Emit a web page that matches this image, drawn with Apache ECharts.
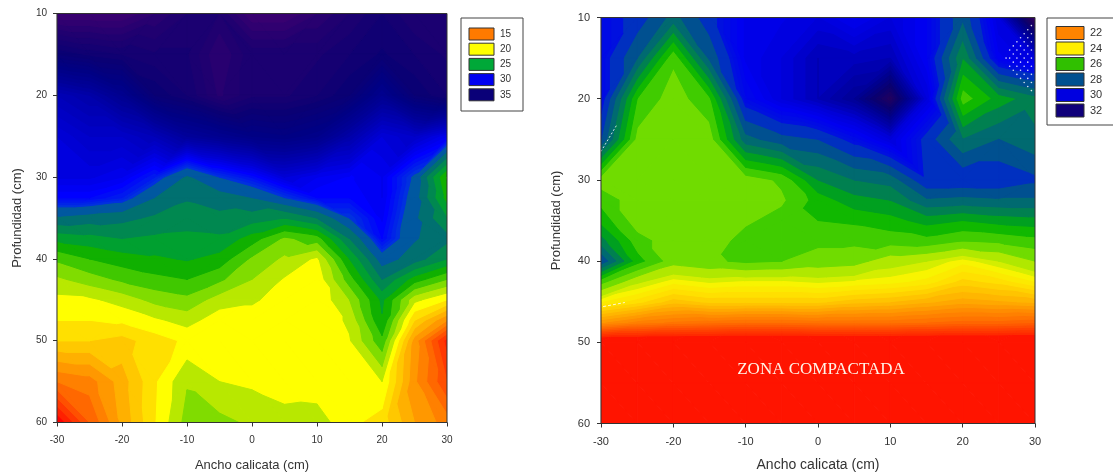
<!DOCTYPE html>
<html><head><meta charset="utf-8">
<style>html,body{margin:0;padding:0;background:#fff}#c{width:1113px;height:473px;filter:blur(0.5px)}</style>
<script src="https://cdn.jsdelivr.net/npm/echarts@6/dist/echarts.min.js"></script>
</head><body><div id="c"></div>
<script>
const widths = [-30,-25,-20,-15,-10,-5,0,5,10,15,20,25,30];
const depths = [10,15,20,25,30,32.5,35,37.5,40,42.5,45,47.5,50,55,60];
const xTicks = [-30,-20,-10,0,10,20,30];
const yTicks = [10,20,30,40,50,60];

// Left panel: one list per width column, top to bottom along depths
const leftM30 = [37,35,32,31,30.8,30,27.8,25.3,23.2,21.8,20.7,20,19,15,10];
const leftM25 = [37,35.3,32.5,31.5,30.8,30,27.5,25.6,24,22.5,20.8,20,19,15.5,14];
const leftM20 = [37,35.5,33.5,31.5,30.5,29.5,27.3,26,24.5,23.2,21.4,20.2,18.6,17.5,17.2];
const leftM15 = [36.5,35.7,35,32,29.5,28,26.8,25.8,24.8,23.7,22.3,20.8,19.5,19.8,19.9];
const leftM10 = [36,35.7,35.5,33,27.8,27.1,26.5,25.7,25.1,24,22.7,21.4,20.2,21.9,22.4];
const leftM05 = [36,36.5,36.3,33.5,29,27.5,26.7,25.8,24.6,23.2,21.5,20.4,20.2,21,22.3];
const leftP00 = [37,35.8,35.8,34,29.8,28,26.5,24.5,22.8,22,21.2,20.4,20.2,20.8,21.8];
const leftP05 = [37,35.8,35.8,34.2,31,29,26,22.8,21.8,20.9,20.4,20.2,20.2,20.5,21.4];
const leftP10 = [36.5,35.8,35.5,33.8,30.5,30,27,23.5,20.8,20.3,20.2,20.2,20.2,20.4,21.5];
const leftP15 = [36,35.5,35,32.5,30.2,30,29,27,25,23.5,22,21.2,20.9,20.3,20.3];
const leftP20 = [35.5,35.2,33.5,31,30.5,30.5,30.3,30,28.5,27,25.2,24.9,23.7,21,19.5];
const leftP25 = [36,35.5,35,31.5,28.8,28.5,28.2,28.1,27.5,24.5,21.3,19,16.5,16.2,17];
const leftP30 = [36,35.8,35.5,30.5,23.8,24.5,26,27.3,26,23,20,16,11.5,13,15.5];
const leftColumns = [leftM30,leftM25,leftM20,leftM15,leftM10,leftM05,leftP00,leftP05,leftP10,leftP15,leftP20,leftP25,leftP30];

// Right panel
const rightM30 = [29.3,29.3,29.3,28.5,25.2,25.8,26.3,27.2,28.4,25.7,24,22.3,19.2,19,19];
const rightM25 = [28.8,28,26,25.3,25.2,25.2,25.2,25.7,26.2,24.6,23.6,21.9,19.2,19,19];
const rightM20 = [27.8,25.6,25.2,25.2,25.2,25.2,25.2,25.2,25.2,24.1,23.1,21.7,19.2,19,19];
const rightM15 = [28.8,28.1,25.9,25.2,25.2,25.2,25.2,25.2,25.4,24.3,23.3,21.6,19.2,19,19];
const rightM10 = [29.7,29.7,29.3,27.8,25.2,25.2,25.4,25.7,25.6,24.2,23.3,21.5,19.2,19,19];
const rightM05 = [29.8,30,30,28.3,25.6,25.4,25.7,25.8,25.5,24.2,23.3,21.5,19.2,19,19];
const rightP00 = [30,30.5,30.5,28.5,27,26.2,26,25.6,25.3,24.3,23.3,21.6,19.2,19,19];
const rightP05 = [29.6,30.4,31,29.2,27.5,26.8,26.1,25.6,25.2,24.2,23.1,21.6,19.2,19,19];
const rightP10 = [30,30.5,32.1,30,27.7,27,26.3,25.7,24.7,24.1,23,21.6,19.2,19,19];
const rightP15 = [29.5,29.5,30,28.8,28.9,27.9,26.7,25.8,24.5,23.9,22.8,21.5,19.2,19,19];
const rightP20 = [28.1,27,25.7,27.5,28.9,27.8,26.5,25.5,24.1,23.4,22.6,21.4,19.2,19,19];
const rightP25 = [30,29.6,26.7,28,28.9,27.9,26.7,25.6,24.5,23.6,22.7,21.4,19.2,19,19];
const rightP30 = [32.5,30,27.3,27.6,28.6,27.9,26.8,25.8,25,24,22.8,21.3,19.2,19,19];
const rightColumns = [rightM30,rightM25,rightM20,rightM15,rightM10,rightM05,rightP00,rightP05,rightP10,rightP15,rightP20,rightP25,rightP30];

const rightDashA = [[-30,26.5],[-27.8,23.2]];
const rightDashB = [[-29.7,45.6],[-26.7,45.1]];
const rightHatchX = [26,26.5,26.5,26.5,27,27,27,27,27.5,27.5,27.5,27.5,27.5,28,28,28,28,28,28,28.5,28.5,28.5,28.5,28.5,28.5,28.5,29,29,29,29,29,29,29,29,29.5,29.5,29.5,29.5,29.5,29.5,29.5,29.5,29.5];
const rightHatchD = [15,14,15,16,13.5,14.5,15.5,16.5,13,14,15,16,17,12.5,13.5,14.5,15.5,16.5,17.5,12,13,14,15,16,17,18,11.5,12.5,13.5,14.5,15.5,16.5,17.5,18.5,11,12,13,14,15,16,17,18,19];

const leftLegendLabels = ['15','20','25','30','35'];
const leftLegendColors = ['#ff7a00','#ffff00','#00a838','#0000f0','#0a0078'];
const rightLegendLabels = ['22','24','26','28','30','32'];
const rightLegendColors = ['#ff8400','#ffee00','#30c000','#005090','#0000e0','#10007a'];

// band colours: [lower edge of band, colour]
const leftBands = [[0,'#ff0000'],[11,'#ff2000'],[12,'#ff3800'],[13,'#ff5000'],[14,'#ff6800'],[15,'#ff8000'],[16,'#ff9800'],[17,'#ffb000'],[18,'#ffc800'],[19,'#ffe000'],[20,'#ffff00'],[21,'#b8e800'],[22,'#80dc00'],[23,'#40c800'],[24,'#10b000'],[25,'#00a030'],[26,'#008850'],[27,'#007070'],[28,'#0058a0'],[29,'#0030e0'],[30,'#0000ff'],[31,'#0000d4'],[32,'#0000b4'],[33,'#000098'],[34,'#000084'],[35,'#0a0074'],[36,'#200070'],[37,'#400070'],[38,'#400070']];
const rightBands = [[0,'#ff1400'],[20,'#ff2a00'],[20.5,'#ff4000'],[21,'#ff5a00'],[21.5,'#ff7400'],[22,'#ff8c00'],[22.5,'#ffa800'],[23,'#ffc400'],[23.5,'#ffe000'],[24,'#f8f400'],[24.5,'#b0e800'],[25,'#70dc00'],[25.5,'#40cc00'],[26,'#10b800'],[26.5,'#00a020'],[27,'#008050'],[27.5,'#006a70'],[28,'#005090'],[28.5,'#0030c0'],[29,'#0010e0'],[29.5,'#0000f0'],[30,'#0000d8'],[30.5,'#0000b0'],[31,'#000090'],[31.5,'#0a0070'],[32,'#200060'],[32.5,'#400060'],[33,'#400060']];

function hex(c){return [1,3,5].map(i=>parseInt(c.substr(i,2),16));}
function blend(a,b,t){const p=hex(a),q=hex(b);return 'rgb('+p.map((v,i)=>Math.round(v+(q[i]-v)*t)).join(',')+')';}
// soften dark ranges by splitting bands into thin colour steps
function refine(bands,ranges){
  const out=[];
  bands.forEach((b,i)=>{
    const nx=bands[i+1];
    const r=nx&&ranges.find(q=>b[0]>=q[0]&&nx[0]<=q[1]);
    if(!r){out.push(b);return;}
    for(let s=0;s<r[2];s++){out.push([b[0]+(nx[0]-b[0])*s/r[2],blend(b[1],nx[1],s/r[2])]);}
  });
  return out;
}

function cellsOf(columns){
  const out=[];
  for(let i=0;i<widths.length-1;i++)for(let j=0;j<depths.length-1;j++){
    out.push([widths[i],widths[i+1],depths[j],depths[j+1],columns[i][j],columns[i+1][j],columns[i][j+1],columns[i+1][j+1]]);
  }
  return out;
}
function clipAbove(tri,L){
  const res=[];
  for(let k=0;k<tri.length;k++){
    const a=tri[k],b=tri[(k+1)%tri.length];
    if(a[2]>=L)res.push(a);
    if((a[2]>=L)!==(b[2]>=L)){
      const t=(L-a[2])/(b[2]-a[2]);
      res.push([a[0]+t*(b[0]-a[0]),a[1]+t*(b[1]-a[1]),L]);
    }
  }
  return res;
}
function contourRender(bands){
  return function(params,api){
    const x0=api.value(0),x1=api.value(1),y0=api.value(2),y1=api.value(3);
    const a=api.coord([x0,y0]),b=api.coord([x1,y0]),c=api.coord([x0,y1]),d=api.coord([x1,y1]);
    const va=api.value(4),vb=api.value(5),vc=api.value(6),vd=api.value(7);
    const P=[a[0],a[1],va],Q=[b[0],b[1],vb],R=[d[0],d[1],vd],S=[c[0],c[1],vc];
    // split along the diagonal whose ends have the closest values
    const tris=Math.abs(va-vd)<=Math.abs(vb-vc)?[[P,Q,R],[P,R,S]]:[[P,Q,S],[Q,R,S]];
    const children=[];
    tris.forEach(tri=>{
      bands.forEach((band,idx)=>{
        const poly=clipAbove(tri,band[0]);
        if(poly.length>=3)children.push({type:'polygon',z2:idx+1,shape:{points:poly.map(p=>[p[0],p[1]])},style:{fill:band[1],stroke:band[1],lineWidth:1}});
      });
    });
    return {type:'group',children};
  };
}
function legendGraphics(labels,colors,box,sw,labelX,size){
  const g=[{type:'rect',shape:{x:box[0],y:box[1],width:box[2],height:box[3]},style:{fill:'#fff',stroke:'#444',lineWidth:1},z:5}];
  labels.forEach((t,i)=>{
    const y=sw[1]+i*sw[4];
    g.push({type:'rect',shape:{x:sw[0],y,width:sw[2],height:sw[3]},style:{fill:colors[i],stroke:'#333',lineWidth:1},z:6});
    g.push({type:'text',x:labelX,y:y+sw[3]/2,style:{text:t,fill:'#333',font:size+'px "Liberation Sans"',textVerticalAlign:'middle'},z:6});
  });
  return g;
}
function axisCommon(i,margin){return {
  axisLine:{show:true,onZero:false,lineStyle:{color:'#333',width:1.2}},
  axisTick:{show:true,length:4,lineStyle:{color:'#333'}},
  axisLabel:{color:'#333',fontSize:i?11:10,fontFamily:'Liberation Sans',margin},
  splitLine:{show:false},
  nameMoveOverlap:false
};}
const frameL={x:57,y:13.5,w:390,h:409};
const frameR={x:601,y:17.5,w:434,h:406};
const option={
  animation:false,
  backgroundColor:'#fff',
  grid:[
    {left:frameL.x,top:frameL.y,width:frameL.w,height:frameL.h,outerBoundsMode:'none'},
    {left:frameR.x,top:frameR.y,width:frameR.w,height:frameR.h,outerBoundsMode:'none'}
  ],
  xAxis:[0,1].map(i=>Object.assign({},axisCommon(i,13),{gridIndex:i,type:'value',min:xTicks[0],max:xTicks[xTicks.length-1],interval:10,name:'Ancho calicata (cm)',nameLocation:'middle',nameGap:i?35:36,nameTextStyle:{color:'#333',fontSize:i?14:13,fontFamily:'Liberation Sans'}})),
  yAxis:[0,1].map(i=>Object.assign({},axisCommon(i,i?11:10),{gridIndex:i,type:'value',inverse:true,min:yTicks[0],max:yTicks[yTicks.length-1],interval:10,name:'Profundidad (cm)',nameLocation:'middle',nameGap:i?38:33,nameTextStyle:{color:'#333',fontSize:13,fontFamily:'Liberation Sans'}})),
  series:[
    {type:'custom',name:'Izquierda',xAxisIndex:0,yAxisIndex:0,clip:true,silent:true,encode:{x:[0,1],y:[2,3]},data:cellsOf(leftColumns),renderItem:contourRender(refine(leftBands,[[29,38,4]]))},
    {type:'custom',name:'Derecha',xAxisIndex:1,yAxisIndex:1,clip:true,silent:true,encode:{x:[0,1],y:[2,3]},data:cellsOf(rightColumns),renderItem:contourRender(refine(rightBands,[[20,24.5,2],[29,33,3]]))},
    {type:'line',xAxisIndex:1,yAxisIndex:1,silent:true,z:4,symbol:'none',data:rightDashA,lineStyle:{color:'#fff',width:1,type:[2,2],opacity:0.8}},
    {type:'line',xAxisIndex:1,yAxisIndex:1,silent:true,z:4,symbol:'none',data:rightDashB,lineStyle:{color:'#fff',width:1,type:[3,2],opacity:0.8}},
    {type:'scatter',xAxisIndex:1,yAxisIndex:1,silent:true,z:4,symbolSize:1.6,itemStyle:{color:'#fff',opacity:0.85},data:rightHatchX.map((x,i)=>[x,rightHatchD[i]])}
  ],
  graphic:[
    {type:'rect',shape:{x:frameL.x,y:frameL.y,width:frameL.w,height:frameL.h},style:{fill:'none',stroke:'#333',lineWidth:1},z:5},
    {type:'rect',shape:{x:frameR.x,y:frameR.y,width:frameR.w,height:frameR.h},style:{fill:'none',stroke:'#333',lineWidth:1},z:5},
    ...legendGraphics(leftLegendLabels,leftLegendColors,[461,18,62,93],[469,28,25,12,15.2],500,10),
    ...legendGraphics(rightLegendLabels,rightLegendColors,[1047,18,80,107],[1056,26.5,28,13,15.5],1090,11),
    {type:'text',x:821,y:370,style:{text:'ZONA COMPACTADA',fill:'#fff4e8',font:'17px "Liberation Serif"',textAlign:'center',textVerticalAlign:'middle'},z:6}
  ]
};
echarts.init(document.getElementById('c'),null,{renderer:'canvas'}).setOption(option);
</script></body></html>
